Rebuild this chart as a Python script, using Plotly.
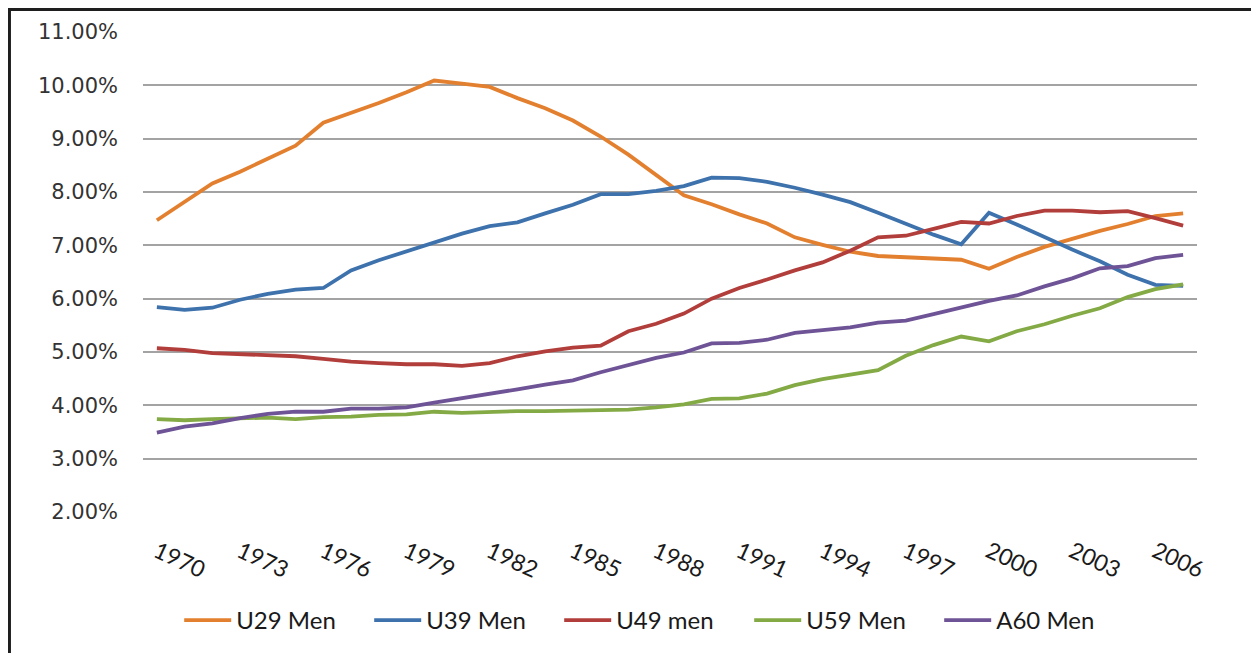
import plotly.graph_objects as go

# Share of men by age group, 1970-2007
years = [1970, 1971, 1972, 1973, 1974, 1975, 1976, 1977, 1978, 1979,
         1980, 1981, 1982, 1983, 1984, 1985, 1986, 1987, 1988, 1989,
         1990, 1991, 1992, 1993, 1994, 1995, 1996, 1997, 1998, 1999,
         2000, 2001, 2002, 2003, 2004, 2005, 2006, 2007]

u29_men = [7.47, 7.82, 8.16, 8.38, 8.62, 8.87, 9.30, 9.48, 9.67, 9.87,
           10.09, 10.03, 9.97, 9.76, 9.57, 9.34, 9.04, 8.70, 8.32, 7.94,
           7.77, 7.58, 7.41, 7.15, 7.01, 6.88, 6.80, 6.78, 6.76, 6.73,
           6.56, 6.78, 6.97, 7.12, 7.27, 7.40, 7.55, 7.60]
u39_men = [5.84, 5.79, 5.83, 5.98, 6.09, 6.17, 6.20, 6.53, 6.72, 6.89,
           7.06, 7.22, 7.36, 7.43, 7.60, 7.76, 7.96, 7.96, 8.02, 8.11,
           8.27, 8.26, 8.19, 8.08, 7.95, 7.81, 7.61, 7.40, 7.20, 7.02,
           7.61, 7.39, 7.15, 6.92, 6.70, 6.45, 6.26, 6.24]
u49_men = [5.07, 5.04, 4.98, 4.96, 4.95, 4.92, 4.87, 4.82, 4.79, 4.77,
           4.77, 4.74, 4.79, 4.92, 5.01, 5.08, 5.12, 5.39, 5.53, 5.72,
           6.00, 6.20, 6.36, 6.53, 6.68, 6.90, 7.15, 7.18, 7.31, 7.44,
           7.41, 7.55, 7.65, 7.65, 7.62, 7.64, 7.51, 7.37]
u59_men = [3.74, 3.72, 3.74, 3.76, 3.77, 3.74, 3.78, 3.79, 3.82, 3.83,
           3.88, 3.86, 3.88, 3.89, 3.89, 3.90, 3.90, 3.92, 3.96, 4.02,
           4.12, 4.13, 4.22, 4.38, 4.49, 4.58, 4.66, 4.93, 5.13, 5.29,
           5.20, 5.39, 5.52, 5.68, 5.82, 6.03, 6.18, 6.27]
a60_men = [3.49, 3.60, 3.66, 3.76, 3.84, 3.88, 3.88, 3.94, 3.94, 3.96,
           4.05, 4.13, 4.22, 4.30, 4.39, 4.47, 4.62, 4.75, 4.89, 4.99,
           5.16, 5.17, 5.23, 5.36, 5.41, 5.46, 5.55, 5.59, 5.71, 5.84,
           5.96, 6.06, 6.23, 6.38, 6.57, 6.61, 6.76, 6.82]

names = ["U29 Men", "U39 Men", "U49 men", "U59 Men", "A60 Men"]
colors = ["#E3802F", "#3E72AD", "#B23E3B", "#84AA45", "#6E5496"]
tick_years = [1970, 1973, 1976, 1979, 1982, 1985, 1988, 1991, 1994, 1997, 2000, 2003, 2006]
y_ticks = [2, 3, 4, 5, 6, 7, 8, 9, 10, 11]
y_labels = ["2.00%", "3.00%", "4.00%", "5.00%", "6.00%", "7.00%", "8.00%", "9.00%", "10.00%", "11.00%"]

fig = go.Figure()
for name, vals, col in zip(names, [u29_men, u39_men, u49_men, u59_men, a60_men], colors):
    fig.add_trace(go.Scatter(x=years, y=vals, name=name, mode="lines",
                             line=dict(color=col, width=3.8)))

# page body adds an 8px offset, so margins are trimmed by that much
fig.update_layout(
    width=1259, height=653,
    margin=dict(l=135, r=70, t=24, b=149, autoexpand=False),
    paper_bgcolor="white", plot_bgcolor="white",
    showlegend=True,
    legend=dict(orientation="h", x=0.485, xanchor="center",
                yref="container", y=0.062, yanchor="middle",
                font=dict(family="Lato", size=24, color="#1a1a1a"),
                entrywidth=128, entrywidthmode="pixels", itemwidth=47),
    shapes=[dict(type="rect", xref="paper", yref="paper",
                 x0=-0.1267, x1=1.055, y0=-0.32, y1=1.0469,
                 line=dict(color="#1e1e1e", width=3), fillcolor="rgba(0,0,0,0)")],
)
fig.update_xaxes(range=[1969.5, 2007.5], tickvals=tick_years, tickangle=25,
                 showgrid=False, zeroline=False, showline=False,
                 ticklabelstandoff=21,
                 tickfont=dict(family="Lato", size=23, color="#1a1a1a"))
fig.update_yaxes(range=[2, 11], tickvals=y_ticks, ticktext=y_labels,
                 showgrid=True, gridcolor="#A3A3A3", gridwidth=1.5, zeroline=False,
                 showline=False, ticks="", ticklabelstandoff=24,
                 tickfont=dict(family="DejaVu Sans", size=21, color="#333333"))

fig.write_html("out.html")
